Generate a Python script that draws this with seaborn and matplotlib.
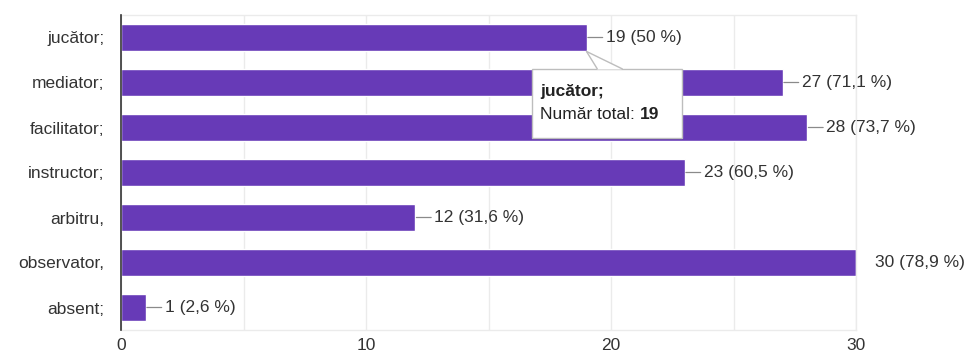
import matplotlib
matplotlib.use("Agg")
import matplotlib.pyplot as plt
from matplotlib.patches import Rectangle, Polygon
from matplotlib.lines import Line2D
import seaborn as sns
import pandas as pd

categories = ["jucător;", "mediator;", "facilitator;", "instructor;",
              "arbitru,", "observator,", "absent;"]
counts = [19, 27, 28, 23, 12, 30, 1]
percents = ["50", "71,1", "73,7", "60,5", "31,6", "78,9", "2,6"]
x_ticks = [0, 10, 20, 30]
tooltip_index = 0

sns.set_style("white")
plt.rcParams["font.family"] = ["Liberation Sans", "DejaVu Sans"]

BAR = "#673ab7"
TEXT = "#333333"
GRID = "#ebebeb"
FS = 12.5

df = pd.DataFrame({"category": categories, "count": counts})

fig = plt.figure(figsize=(9.72, 3.54), dpi=100)
ax = fig.add_axes([121 / 972, 1 - 330 / 354, 735 / 972, 315 / 354])

bar_width = 0.62
sns.barplot(data=df, y="category", x="count", orient="h", color=BAR,
            saturation=1, width=bar_width, ax=ax, zorder=2)

ax.set_xlim(0, 30)
ax.set_ylim(len(categories) - 0.5, -0.5)
ax.set_xticks(x_ticks)
ax.set_xticks(range(0, 31, 5), minor=True)
ax.grid(axis="x", which="both", color=GRID, linewidth=1, zorder=0)
ax.set_axisbelow(True)
ax.set_xlabel("")
ax.set_ylabel("")
ax.tick_params(axis="both", length=0, labelsize=FS, labelcolor=TEXT)
ax.tick_params(axis="y", pad=12)
ax.tick_params(axis="x", pad=6)

for side in ("top", "right", "bottom"):
    ax.spines[side].set_color(GRID)
    ax.spines[side].set_linewidth(1)
ax.spines["left"].set_color("#333333")
ax.spines["left"].set_linewidth(1.2)
ax.spines["left"].set_zorder(5)

# value labels with a short leader line after each bar
xmax = ax.get_xlim()[1]
for i, (c, p) in enumerate(zip(counts, percents)):
    label = f"{c} ({p} %)"
    if c >= xmax:
        ax.annotate(label, xy=(c, i), xytext=(14, 0), textcoords="offset points",
                    va="center", ha="left", fontsize=FS, color=TEXT,
                    annotation_clip=False)
    else:
        ax.annotate(label, xy=(c, i), xytext=(14, 0), textcoords="offset points",
                    va="center", ha="left", fontsize=FS, color=TEXT,
                    arrowprops=dict(arrowstyle="-", color="#8a8a8a", lw=0.9,
                                    shrinkA=0, shrinkB=1))

# hover tooltip attached to the first bar
fig.canvas.draw()
tip = ax.transLimits.transform((counts[tooltip_index],
                                tooltip_index + bar_width / 2))
bx0, bx1, by0, by1 = 0.559, 0.763, 0.610, 0.829
base_l, base_r = 0.648, 0.682
edge = "#bdbdbd"

shadow = Rectangle((bx0 + 0.002, by0 - 0.008), bx1 - bx0, by1 - by0,
                   transform=ax.transAxes, facecolor="#000000", alpha=0.08,
                   edgecolor="none", zorder=6)
box = Rectangle((bx0, by0), bx1 - bx0, by1 - by0, transform=ax.transAxes,
                facecolor="white", edgecolor=edge, linewidth=1, zorder=7)
ax.add_patch(shadow)
ax.add_patch(box)
pointer = Polygon([(base_l, by1 - 0.002), tip, (base_r, by1 - 0.002)],
                  closed=True, transform=ax.transAxes, facecolor="white",
                  edgecolor="none", zorder=8)
ax.add_patch(pointer)
for bx in (base_l, base_r):
    ax.add_line(Line2D([bx, tip[0]], [by1, tip[1]], transform=ax.transAxes,
                       color=edge, linewidth=1, zorder=9))

ax.text(0.570, 0.757, categories[tooltip_index], transform=ax.transAxes,
        fontsize=12.5, fontweight="bold", color="#222222", va="center",
        ha="left", zorder=10)
t = ax.text(0.570, 0.684, "Număr total: ", transform=ax.transAxes,
            fontsize=12.5, color="#222222", va="center", ha="left", zorder=10)
ax.annotate(str(counts[tooltip_index]), xy=(1, 0.5), xycoords=t,
            va="center", ha="left", fontsize=12.5, fontweight="bold",
            color="#222222", zorder=10)

fig.savefig("out.png", dpi=100, facecolor="white")
